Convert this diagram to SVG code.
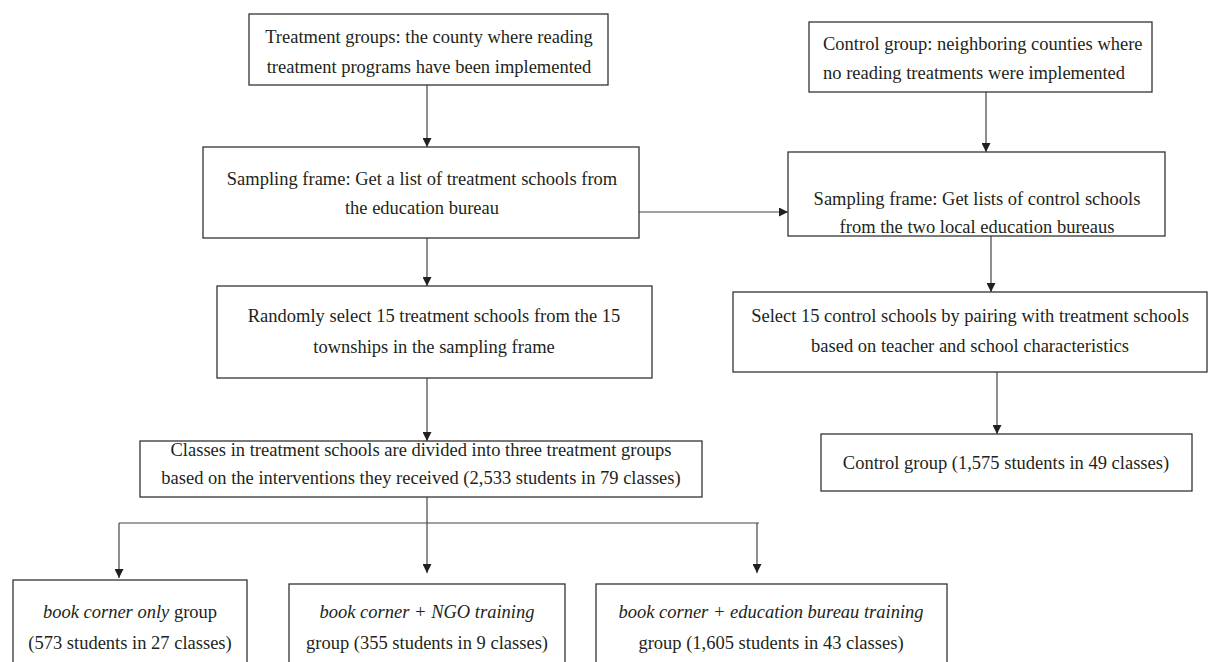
<svg xmlns="http://www.w3.org/2000/svg" width="1213" height="662" viewBox="0 0 1213 662">
<defs>
<marker id="ah" viewBox="0 0 10 10" refX="10" refY="5" markerWidth="9" markerHeight="9" markerUnits="userSpaceOnUse" orient="auto">
<path d="M0,0 L10,5 L0,10 Z" fill="#231f20"/>
</marker>
<style>
.box{fill:#fff;stroke:#333;stroke-width:1.3}
.t{font-family:"Liberation Serif","Times New Roman",serif;font-size:18.5px;fill:#231f20}
.c{text-anchor:middle}
.ln{fill:none;stroke:#444;stroke-width:1.2}
.ar{fill:none;stroke:#444;stroke-width:1.2;marker-end:url(#ah)}
</style>
</defs>
<rect width="1213" height="662" fill="#fff"/>
<g id="connectors">
<line class="ar" x1="427" y1="85" x2="427" y2="147"/>
<line class="ar" x1="427" y1="238" x2="427" y2="286"/>
<line class="ar" x1="427" y1="378" x2="427" y2="441"/>
<line class="ar" x1="639" y1="212" x2="788" y2="212"/>
<line class="ar" x1="986" y1="92" x2="986" y2="152"/>
<line class="ar" x1="991" y1="236" x2="991" y2="292"/>
<line class="ar" x1="997" y1="372" x2="997" y2="434"/>
<line class="ln" x1="119" y1="523" x2="759" y2="523"/>
<line class="ar" x1="119" y1="523" x2="119" y2="578"/>
<line class="ar" x1="427" y1="497" x2="427" y2="573"/>
<line class="ar" x1="757" y1="523" x2="757" y2="573"/>
</g>
<g id="n1">
<rect class="box" x="249" y="14" width="359" height="71"/>
<text class="t c" x="429" y="43">Treatment groups: the county where reading</text>
<text class="t c" x="429" y="73">treatment programs have been implemented</text>
</g>
<g id="n2">
<rect class="box" x="809" y="22" width="343" height="70"/>
<text class="t" x="823" y="50">Control group: neighboring counties where</text>
<text class="t" x="823" y="79">no reading treatments were implemented</text>
</g>
<g id="n3">
<rect class="box" x="203" y="147" width="436" height="91"/>
<text class="t c" x="422" y="185">Sampling frame: Get a list of treatment schools from</text>
<text class="t c" x="422" y="214">the education bureau</text>
</g>
<g id="n4">
<rect class="box" x="788" y="152" width="377" height="84"/>
<text class="t c" x="977" y="205">Sampling frame: Get lists of control schools</text>
<text class="t c" x="977" y="233">from the two local education bureaus</text>
</g>
<g id="n5">
<rect class="box" x="217" y="286" width="435" height="92"/>
<text class="t c" x="434" y="322">Randomly select 15 treatment schools from the 15</text>
<text class="t c" x="434" y="353">townships in the sampling frame</text>
</g>
<g id="n6">
<rect class="box" x="733" y="292" width="474" height="80"/>
<text class="t c" x="970" y="322">Select 15 control schools by pairing with treatment schools</text>
<text class="t c" x="970" y="352">based on teacher and school characteristics</text>
</g>
<g id="n7">
<rect class="box" x="140" y="441" width="562" height="56"/>
<text class="t c" x="421" y="456">Classes in treatment schools are divided into three treatment groups</text>
<text class="t c" x="421" y="484">based on the interventions they received (2,533 students in 79 classes)</text>
</g>
<g id="n8">
<rect class="box" x="821" y="434" width="371" height="57"/>
<text class="t c" x="1006" y="469">Control group (1,575 students in 49 classes)</text>
</g>
<g id="n9">
<rect class="box" x="13" y="580" width="234" height="100"/>
<text class="t c" x="130" y="618"><tspan font-style="italic">book corner only</tspan> group</text>
<text class="t c" x="130" y="649">(573 students in 27 classes)</text>
</g>
<g id="n10">
<rect class="box" x="289" y="584" width="276" height="100"/>
<text class="t c" x="427" y="618"><tspan font-style="italic">book corner + NGO training</tspan></text>
<text class="t c" x="427" y="649">group (355 students in 9 classes)</text>
</g>
<g id="n11">
<rect class="box" x="596" y="584" width="351" height="100"/>
<text class="t c" x="771" y="618"><tspan font-style="italic">book corner + education bureau training</tspan></text>
<text class="t c" x="771" y="649">group (1,605 students in 43 classes)</text>
</g>
</svg>
